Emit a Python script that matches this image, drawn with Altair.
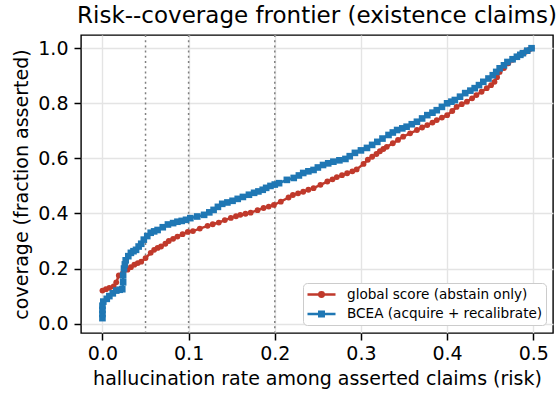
import altair as alt
import pandas as pd

series_names = ["global score (abstain only)", "BCEA (acquire + recalibrate)"]
series_colors = ["#c0392b", "#1f77b4"]

glob_x = [0.0, 0.004, 0.008, 0.013, 0.016, 0.019, 0.024, 0.029, 0.033, 0.037, 0.041, 0.045,
          0.05, 0.056, 0.06, 0.064, 0.068, 0.073, 0.077, 0.082, 0.087, 0.093, 0.099, 0.105,
          0.113, 0.122, 0.128, 0.135, 0.142, 0.149, 0.155, 0.16, 0.166, 0.172, 0.18, 0.187,
          0.193, 0.199, 0.207, 0.216, 0.221, 0.227, 0.233, 0.239, 0.245, 0.253, 0.261, 0.267,
          0.272, 0.278, 0.284, 0.29, 0.295, 0.303, 0.308, 0.313, 0.318, 0.322, 0.326, 0.33,
          0.337, 0.343, 0.349, 0.357, 0.365, 0.371, 0.377, 0.383, 0.388, 0.394, 0.4, 0.406,
          0.411, 0.417, 0.423, 0.429, 0.434, 0.44, 0.446, 0.451, 0.455, 0.458, 0.461, 0.466,
          0.471, 0.476, 0.481, 0.486, 0.491, 0.495, 0.498]
glob_y = [0.12, 0.125, 0.13, 0.135, 0.15, 0.175, 0.185, 0.196, 0.205, 0.214, 0.22, 0.225,
          0.238, 0.257, 0.268, 0.275, 0.28, 0.29, 0.30, 0.308, 0.316, 0.325, 0.333, 0.336,
          0.345, 0.355, 0.361, 0.367, 0.376, 0.384, 0.39, 0.395, 0.399, 0.403, 0.412, 0.42,
          0.425, 0.431, 0.443, 0.458, 0.467, 0.473, 0.479, 0.486, 0.492, 0.504, 0.516, 0.524,
          0.532, 0.539, 0.546, 0.553, 0.56, 0.58, 0.595, 0.606, 0.616, 0.626, 0.634, 0.642,
          0.655, 0.667, 0.679, 0.691, 0.703, 0.712, 0.721, 0.73, 0.739, 0.748, 0.757, 0.772,
          0.787, 0.797, 0.806, 0.818, 0.83, 0.842, 0.855, 0.866, 0.878, 0.895, 0.914, 0.928,
          0.945, 0.958, 0.969, 0.978, 0.987, 0.994, 1.0]

bcea_x = [0.0, 0.0, 0.0, 0.0, 0.001, 0.005, 0.008, 0.012, 0.016, 0.02, 0.023, 0.024, 0.024,
          0.025, 0.026, 0.027, 0.03, 0.033, 0.036, 0.039, 0.042, 0.045, 0.048, 0.052, 0.056,
          0.06, 0.064, 0.07, 0.076, 0.082, 0.087, 0.092, 0.097, 0.102, 0.11, 0.118, 0.124,
          0.129, 0.134, 0.139, 0.145, 0.151, 0.157, 0.163, 0.17, 0.176, 0.181, 0.186, 0.19,
          0.195, 0.2, 0.205, 0.214, 0.222, 0.228, 0.233, 0.239, 0.245, 0.25, 0.256, 0.262,
          0.268, 0.275, 0.282, 0.287, 0.293, 0.3, 0.307, 0.313, 0.319, 0.325, 0.332, 0.337,
          0.342, 0.348, 0.353, 0.359, 0.365, 0.371, 0.377, 0.383, 0.388, 0.394, 0.4, 0.405,
          0.409, 0.415, 0.421, 0.427, 0.432, 0.437, 0.442, 0.448, 0.453, 0.457, 0.461, 0.466,
          0.47, 0.476, 0.481, 0.485, 0.488, 0.493, 0.498]
bcea_y = [0.02, 0.035, 0.05, 0.065, 0.08, 0.09, 0.10, 0.11, 0.12, 0.123, 0.125, 0.15, 0.175,
          0.2, 0.215, 0.23, 0.245, 0.257, 0.263, 0.268, 0.28, 0.29, 0.305, 0.318, 0.33,
          0.335, 0.34, 0.35, 0.36, 0.365, 0.37, 0.373, 0.377, 0.383, 0.389, 0.395, 0.404,
          0.413, 0.424, 0.435, 0.44, 0.446, 0.453, 0.46, 0.468, 0.475, 0.48, 0.486, 0.493,
          0.5, 0.505, 0.51, 0.522, 0.529, 0.538, 0.547, 0.553, 0.558, 0.567, 0.576, 0.582,
          0.588, 0.593, 0.598, 0.608, 0.62, 0.629, 0.638, 0.649, 0.66, 0.672, 0.685, 0.694,
          0.703, 0.709, 0.715, 0.724, 0.733, 0.745, 0.757, 0.766, 0.775, 0.787, 0.8, 0.806,
          0.812, 0.824, 0.837, 0.846, 0.855, 0.866, 0.878, 0.89, 0.902, 0.914, 0.927, 0.938,
          0.95, 0.96, 0.969, 0.976, 0.982, 0.991, 1.0]

ref_risks = [0.05, 0.1, 0.2]
x_ticks = [0.0, 0.1, 0.2, 0.3, 0.4, 0.5]
y_ticks = [0.0, 0.2, 0.4, 0.6, 0.8, 1.0]

rows = []
for i, (x, y) in enumerate(zip(glob_x, glob_y)):
    rows.append({"series": series_names[0], "risk": x, "coverage": y, "idx": i})
for i, (x, y) in enumerate(zip(bcea_x, bcea_y)):
    rows.append({"series": series_names[1], "risk": x, "coverage": y, "idx": i})
df = pd.DataFrame(rows)
ref_df = pd.DataFrame({"risk": ref_risks})

FONT = "DejaVu Sans"

xenc = alt.X("risk:Q",
             scale=alt.Scale(domain=[-0.0249, 0.5229], nice=False, zero=False),
             axis=alt.Axis(values=x_ticks, format=".1f",
                           title="hallucination rate among asserted claims (risk)"))
yenc = alt.Y("coverage:Q",
             scale=alt.Scale(domain=[-0.034, 1.048], nice=False, zero=False),
             axis=alt.Axis(values=y_ticks, format=".1f",
                           title="coverage (fraction asserted)"))

rules = alt.Chart(ref_df).mark_rule(color="#808080", strokeWidth=1.5,
                                    strokeDash=[2, 3.2]).encode(x=alt.X("risk:Q"))


def series_layers(k, shape, size):
    base = alt.Chart(df).transform_filter(alt.datum.series == series_names[k])
    line = base.mark_line(strokeWidth=2.5, color=series_colors[k]).encode(
        x=xenc, y=yenc, order=alt.Order("idx:Q"))
    pts = base.mark_point(filled=True, shape=shape, size=size, opacity=1,
                          color=series_colors[k]).encode(x=xenc, y=yenc)
    return [line, pts]


# legend glyphs: short line with a marker in its middle (unit = 7 px)
legend_paths = [
    "M-1,0H3M1.32,0A0.32,0.32,0,1,1,0.68,0A0.32,0.32,0,1,1,1.32,0Z",
    "M-1,0H3M0.68,-0.32H1.32V0.32H0.68Z",
]
leg = alt.Legend(title=None, orient="none", legendX=222, legendY=248,
                 fillColor="white", strokeColor="#cccccc", cornerRadius=4,
                 padding=3, labelFontSize=13.6, labelFont=FONT, labelColor="#000000",
                 labelLimit=400, symbolSize=196, symbolStrokeWidth=2.5, rowPadding=3.5,
                 labelOffset=24, symbolOpacity=1)
legend_layer = alt.Chart(df).transform_filter("false").mark_point(
    filled=True, strokeWidth=2.5, opacity=1).encode(
    x=xenc, y=yenc,
    fill=alt.Fill("series:N", scale=alt.Scale(domain=series_names, range=series_colors), legend=leg),
    stroke=alt.Stroke("series:N", scale=alt.Scale(domain=series_names, range=series_colors), legend=leg),
    shape=alt.Shape("series:N", scale=alt.Scale(domain=series_names, range=legend_paths), legend=leg),
)

layers = [rules] + series_layers(0, "circle", 34) + \
    series_layers(1, "square", 44) + [legend_layer]

chart = alt.layer(*layers).properties(
    width=472, height=298,
    title=alt.TitleParams("Risk--coverage frontier (existence claims)", font=FONT,
                          fontSize=23, fontWeight="normal", color="#000000",
                          anchor="middle", offset=6),
    autosize=alt.AutoSizeParams(type="none"),
    padding={"left": 81, "top": 35, "right": 7, "bottom": 64},
).configure_view(stroke="#000000", strokeWidth=1.4).configure_axis(
    labelFont=FONT, titleFont=FONT, labelFontSize=19, titleFontSize=19,
    titleFontWeight="normal", labelColor="#000000", titleColor="#000000",
    domain=False, tickColor="#000000", tickSize=7, tickWidth=1.5,
    gridColor="#e4e4e4", gridWidth=1.4, labelPadding=4,
).configure_axisX(titlePadding=6).configure_axisY(titlePadding=6, labelPadding=6)

chart.save("out.html", embed_options={"renderer": "svg", "actions": False})
